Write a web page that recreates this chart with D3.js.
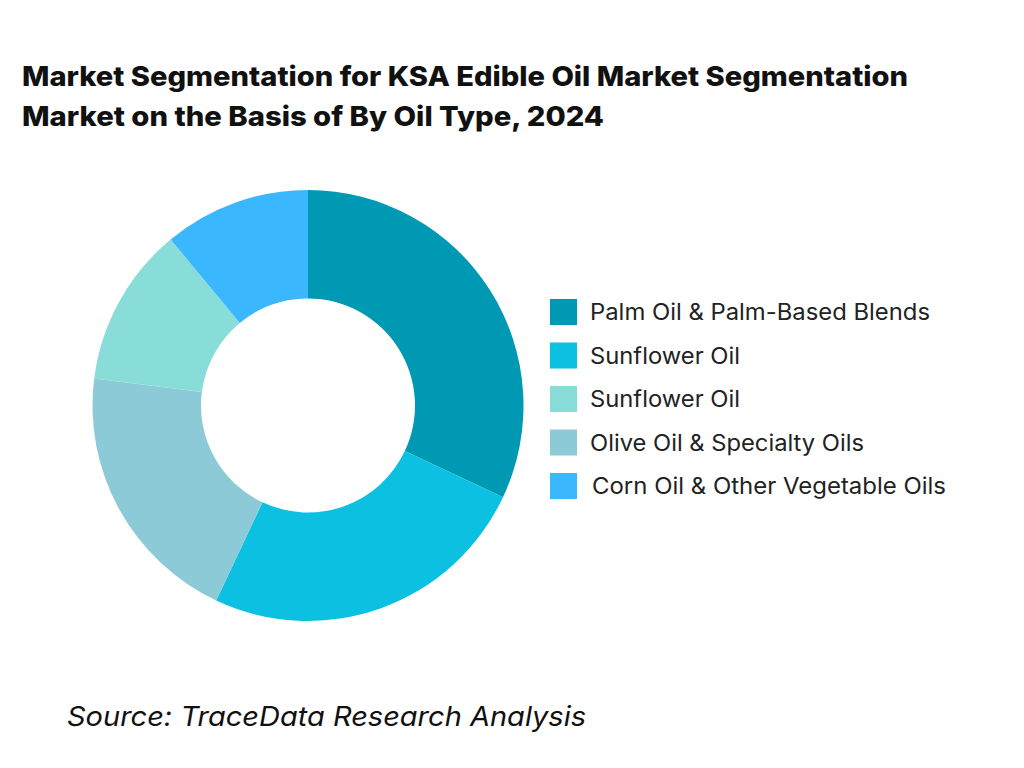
<!DOCTYPE html>
<html><head><meta charset="utf-8">
<script src="https://cdn.jsdelivr.net/npm/d3@7"></script>
<style>body{margin:0;background:#fff}</style></head>
<body><svg id="c" width="1024" height="768"></svg>
<script>
const sliceLabels = ["Palm Oil & Palm-Based Blends","Sunflower Oil","Olive Oil & Specialty Oils","Sunflower Oil","Corn Oil & Other Vegetable Oils"];
const sliceValues = [32,25,20,12,11];
const sliceColors = ["#0099B4","#0BC0E0","#8DCAD7","#88DDD9","#3AB7FF"];
const legendLabels = ["Palm Oil & Palm-Based Blends","Sunflower Oil","Sunflower Oil","Olive Oil & Specialty Oils","Corn Oil & Other Vegetable Oils"];
const legendColors = ["#0099B4","#0BC0E0","#88DDD9","#8DCAD7","#3AB7FF"];

const svg = d3.select("#c");
const font = "Inter, 'Open Sans', sans-serif";
svg.append("text").attr("x",22).attr("y",86).attr("font-family",font).attr("font-weight",800).attr("font-size",27.5).attr("textLength",886).attr("lengthAdjust","spacingAndGlyphs").attr("fill","#111").text("Market Segmentation for KSA Edible Oil Market Segmentation");
svg.append("text").attr("x",22).attr("y",126).attr("font-family",font).attr("font-weight",800).attr("font-size",27.5).attr("textLength",582).attr("lengthAdjust","spacingAndGlyphs").attr("fill","#111").text("Market on the Basis of By Oil Type, 2024");

const pie = d3.pie().sort(null).value(d=>d);
const arc = d3.arc().innerRadius(107).outerRadius(215.5);
const g = svg.append("g").attr("transform","translate(308,405.5)");
g.selectAll("path").data(pie(sliceValues)).join("path").attr("d",arc).attr("fill",(d,i)=>sliceColors[i]);

const lg = svg.append("g");
const legendLen = [340,150,150,274,354];
legendLabels.forEach((l,i)=>{
  const y = 312 + i*43.5;
  lg.append("rect").attr("x",550).attr("y",y-13).attr("width",27).attr("height",26).attr("fill",legendColors[i]);
  lg.append("text").attr("x",i==4?592:590).attr("y",y+8).attr("font-family",font).attr("font-size",22.5).attr("textLength",legendLen[i]).attr("lengthAdjust","spacingAndGlyphs").attr("fill","#222").text(l);
});

svg.append("text").attr("x",67).attr("y",726).attr("font-family",font).attr("font-style","italic").attr("font-size",27.5).attr("textLength",519).attr("lengthAdjust","spacingAndGlyphs").attr("fill","#111").text("Source: TraceData Research Analysis");
</script></body></html>
